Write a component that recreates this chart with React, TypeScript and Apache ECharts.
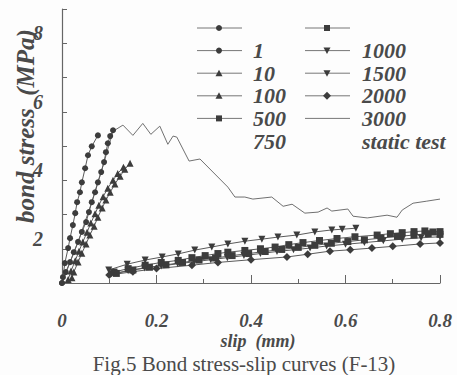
import React, { useEffect, useRef } from 'react';
import * as echarts from 'echarts';

// ---- data (slip in mm, bond stress in MPa as read on the printed axis) ----
const seriesNames = ['1', '10', '100', '500', '750', '1000', '1500', '2000', '3000', 'static test'];
const seriesSymbols = ['circle', 'circle', 'triangle', 'triangle', 'rect', 'rect', 'downTri', 'downTri', 'diamond', 'none'];

const cyc1 = [[0, 1], [0.002, 1.17], [0.006, 1.58], [0.013, 2.02], [0.017, 2.31], [0.023, 2.69], [0.028, 3.04], [0.032, 3.36], [0.038, 3.65], [0.042, 3.94], [0.049, 4.35], [0.055, 4.73], [0.063, 4.99], [0.076, 5.31]];
const cyc10 = [[0, 1], [0.008, 1.32], [0.017, 1.61], [0.025, 1.9], [0.034, 2.2], [0.042, 2.49], [0.051, 2.78], [0.057, 3.07], [0.063, 3.36], [0.07, 3.65], [0.076, 3.94], [0.083, 4.24], [0.089, 4.53], [0.093, 4.82], [0.097, 5.08], [0.102, 5.29], [0.108, 5.46]];
const cyc100 = [[0.021, 1.15], [0.025, 1.32], [0.034, 1.61], [0.042, 1.87], [0.051, 2.14], [0.059, 2.4], [0.068, 2.66], [0.076, 2.92], [0.085, 3.19], [0.093, 3.42], [0.102, 3.65], [0.112, 3.89], [0.123, 4.12], [0.133, 4.32], [0.144, 4.5]];
const cyc500 = [[0.013, 1.1], [0.019, 1.35], [0.028, 1.65], [0.036, 1.93], [0.044, 2.2], [0.053, 2.48], [0.061, 2.75], [0.07, 3.02], [0.078, 3.27], [0.087, 3.52], [0.097, 3.77], [0.108, 4.0], [0.118, 4.2], [0.13, 4.38]];
const cyc750 = [[0.11, 1.32], [0.14, 1.42], [0.176, 1.52], [0.21, 1.6], [0.246, 1.66], [0.275, 1.74], [0.303, 1.8], [0.33, 1.86], [0.351, 1.9], [0.387, 1.95], [0.42, 2.0], [0.451, 2.05], [0.48, 2.12], [0.51, 2.18], [0.545, 2.24], [0.582, 2.3], [0.62, 2.35], [0.667, 2.4], [0.695, 2.44], [0.72, 2.47], [0.745, 2.5], [0.768, 2.52], [0.785, 2.49], [0.8, 2.5]];
const cyc1000 = [[0.115, 1.28], [0.15, 1.38], [0.185, 1.46], [0.22, 1.53], [0.255, 1.6], [0.29, 1.67], [0.325, 1.73], [0.36, 1.8], [0.395, 1.86], [0.43, 1.92], [0.465, 1.98], [0.5, 2.04], [0.535, 2.1], [0.57, 2.16], [0.605, 2.21], [0.64, 2.26], [0.675, 2.31], [0.71, 2.36], [0.745, 2.4], [0.775, 2.44], [0.8, 2.42]];
const cyc1500 = [[0.099, 1.38], [0.138, 1.55], [0.176, 1.67], [0.212, 1.76], [0.246, 1.85], [0.281, 1.96], [0.317, 2.05], [0.351, 2.14], [0.387, 2.22], [0.423, 2.28], [0.457, 2.34], [0.497, 2.4], [0.535, 2.49], [0.571, 2.55], [0.593, 2.57], [0.622, 2.6]];
const cyc2000 = [[0.105, 1.27], [0.14, 1.36], [0.175, 1.44], [0.21, 1.5], [0.245, 1.56], [0.28, 1.62], [0.315, 1.68], [0.35, 1.74], [0.385, 1.8], [0.42, 1.86], [0.455, 1.92], [0.49, 1.97], [0.525, 2.02], [0.56, 2.08], [0.6, 2.13], [0.64, 2.18], [0.68, 2.23], [0.72, 2.28], [0.76, 2.32], [0.8, 2.35]];
const cyc3000 = [[0.1, 1.23], [0.15, 1.33], [0.2, 1.42], [0.275, 1.52], [0.33, 1.6], [0.4, 1.68], [0.476, 1.76], [0.52, 1.84], [0.567, 1.93], [0.61, 1.97], [0.656, 2.02], [0.7, 2.07], [0.758, 2.14], [0.8, 2.17]];
const staticTest = [[0, 1], [0.034, 2.2], [0.063, 3.36], [0.089, 4.53], [0.108, 5.43], [0.129, 5.61], [0.15, 5.31], [0.171, 5.66], [0.188, 5.34], [0.207, 5.58], [0.224, 5.05], [0.235, 5.29], [0.243, 5.26], [0.269, 4.56], [0.292, 4.62], [0.351, 3.8], [0.366, 3.51], [0.387, 3.51], [0.404, 3.45], [0.444, 3.51], [0.468, 3.24], [0.487, 3.3], [0.514, 3.04], [0.542, 3.07], [0.561, 3.19], [0.571, 3.1], [0.605, 3.16], [0.616, 2.95], [0.646, 2.9], [0.688, 2.98], [0.709, 2.92], [0.72, 3.13], [0.743, 3.33], [0.772, 3.39], [0.8, 3.45]];

const seriesData = [cyc1, cyc10, cyc100, cyc500, cyc750, cyc1000, cyc1500, cyc2000, cyc3000, staticTest];

const xTickLabels = ['0', '0.2', '0.4', '0.6', '0.8'];
const yTickLabels = ['2', '4', '6', '8'];

const SERIF = "'Liberation Serif', 'Times New Roman', Times, serif";
const INK = '#4a4a4a';
const LINE = '#5a5a5a';

function ecSymbol(s: string) {
  if (s === 'downTri') return 'triangle';
  return s;
}

function legendMarker(kind: string, cx: number, cy: number) {
  const st = { fill: '#3c3c3c' };
  switch (kind) {
    case 'circle':
      return { type: 'circle', shape: { cx, cy, r: 3 }, style: st };
    case 'triangle':
      return { type: 'polygon', shape: { points: [[cx, cy - 3.5], [cx + 3.5, cy + 3], [cx - 3.5, cy + 3]] }, style: st };
    case 'downTri':
      return { type: 'polygon', shape: { points: [[cx - 3.5, cy - 3], [cx + 3.5, cy - 3], [cx, cy + 3.5]] }, style: st };
    case 'rect':
      return { type: 'rect', shape: { x: cx - 3, y: cy - 3, width: 6, height: 6 }, style: st };
    case 'diamond':
      return { type: 'polygon', shape: { points: [[cx, cy - 4], [cx + 4, cy], [cx, cy + 4], [cx - 4, cy]] }, style: st };
    default:
      return null;
  }
}

export default function App() {
  const ref = useRef<HTMLDivElement>(null);
  useEffect(() => {
    if (!ref.current) return;
    const chart = echarts.init(ref.current, null, { renderer: 'svg' });

    const series = seriesNames.map((name, i) => {
      const sym = seriesSymbols[i];
      return {
        name,
        type: 'line',
        data: seriesData[i],
        showSymbol: sym !== 'none',
        symbol: sym === 'none' ? 'none' : ecSymbol(sym),
        symbolRotate: sym === 'downTri' ? 180 : 0,
        symbolSize: sym === 'diamond' ? 8 : sym === 'circle' ? 6 : 7,
        itemStyle: { color: '#3c3c3c' },
        lineStyle: { color: sym === 'none' ? '#707070' : LINE, width: 1 },
        z: sym === 'none' ? 1 : 2,
      };
    });

    // legend drawn with graphic: symbols one row above their labels, as in the print
    const colSymX = [197, 305];
    const colLabelX = [253, 362];
    const row0 = 28;
    const rowGap = 22.6;
    const legendEls: any[] = [];
    seriesNames.forEach((name, i) => {
      const col = Math.floor(i / 5);
      const r = i % 5;
      const ys = row0 + r * rowGap;
      const yl = row0 + (r + 1) * rowGap;
      legendEls.push({
        type: 'line',
        shape: { x1: colSymX[col], y1: ys, x2: colSymX[col] + 45, y2: ys },
        style: { stroke: '#777', lineWidth: 1 },
      });
      const m = legendMarker(seriesSymbols[i], colSymX[col] + 22, ys);
      if (m) legendEls.push(m);
      legendEls.push({
        type: 'text',
        x: colLabelX[col],
        y: yl,
        style: {
          text: name,
          fill: INK,
          fontFamily: SERIF,
          fontStyle: 'italic',
          fontWeight: 'bold',
          fontSize: 22,
          verticalAlign: 'middle',
          align: 'left',
        },
      });
    });

    const option: any = {
      animation: false,
      backgroundColor: '#fdfdfd',
      grid: { left: 62, right: 17, top: 9, bottom: 92 },
      xAxis: {
        type: 'value',
        min: 0,
        max: 0.8,
        interval: 0.2,
        axisLine: { show: true, lineStyle: { color: '#666', width: 1.2 } },
        axisTick: { show: true, inside: true, length: 8, lineStyle: { color: '#666' } },
        minorTick: { show: true, splitNumber: 2, length: 4, lineStyle: { color: '#666' } },
        splitLine: { show: false },
        axisLabel: {
          margin: 30,
          color: INK,
          fontFamily: SERIF,
          fontStyle: 'italic',
          fontWeight: 'bold',
          fontSize: 19,
          lineHeight: 15,
          formatter: (_v: number, idx: number) => xTickLabels[idx] ?? '',
        },
      },
      yAxis: {
        type: 'value',
        min: 1,
        max: 9,
        interval: 1,
        axisLine: { show: true, lineStyle: { color: '#666', width: 1.2 } },
        axisTick: { show: true, inside: true, length: 5, lineStyle: { color: '#666' } },
        splitLine: { show: false },
        axisLabel: {
          margin: 19,
          color: INK,
          fontFamily: SERIF,
          fontStyle: 'italic',
          fontWeight: 'bold',
          fontSize: 20,
          verticalAlign: 'bottom',
          formatter: (v: number) => (yTickLabels.includes(String(v)) ? String(v) : ''),
        },
      },
      series,
      graphic: [
        ...legendEls,
        {
          type: 'text',
          x: 25,
          y: 126,
          rotation: Math.PI / 2,
          style: {
            text: 'bond stress  (MPa)',
            fill: INK,
            fontFamily: SERIF,
            fontStyle: 'italic',
            fontWeight: 'bold',
            fontSize: 25,
            align: 'center',
            verticalAlign: 'middle',
          },
        },
        {
          type: 'text',
          x: 258,
          y: 341,
          style: {
            text: 'slip  (mm)',
            fill: INK,
            fontFamily: SERIF,
            fontStyle: 'italic',
            fontWeight: 'bold',
            fontSize: 18,
            lineHeight: 12,
            align: 'center',
            verticalAlign: 'middle',
          },
        },
        {
          type: 'text',
          x: 244,
          y: 364,
          style: {
            text: 'Fig.5 Bond stress-slip curves (F-13)',
            fill: INK,
            fontFamily: SERIF,
            fontSize: 21,
            lineHeight: 16,
            align: 'center',
            verticalAlign: 'middle',
          },
        },
      ],
    };
    chart.setOption(option);
    return () => chart.dispose();
  }, []);

  return (
    <div
      ref={ref}
      style={{ position: 'fixed', left: 0, top: 0, width: 457, height: 375 }}
    />
  );
}
